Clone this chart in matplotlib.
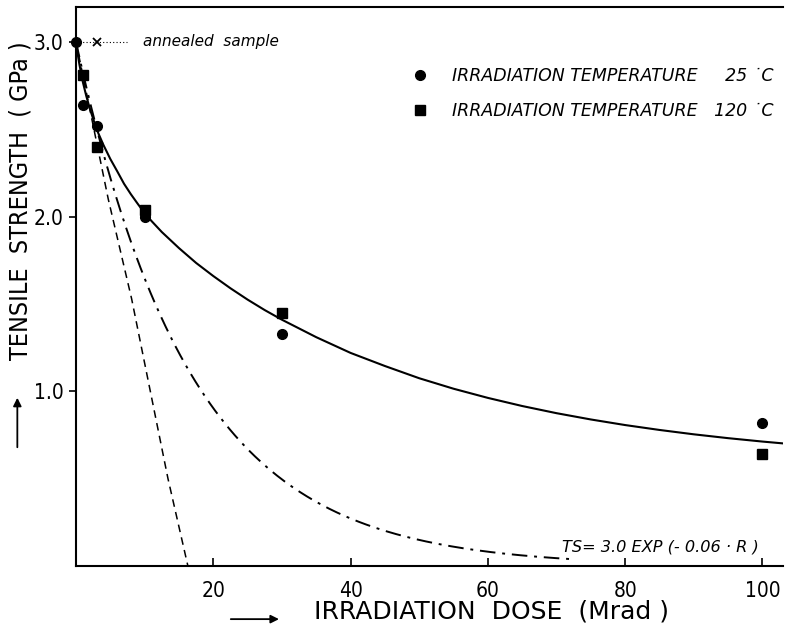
import numpy as np
import matplotlib.pyplot as plt

# measured points (dose in Mrad, tensile strength in GPa)
dose_25 = [0, 1, 3, 10, 30, 100]
ts_25 = [3.0, 2.64, 2.52, 2.00, 1.33, 0.82]
dose_120 = [1, 3, 10, 30, 100]
ts_120 = [2.81, 2.40, 2.04, 1.45, 0.64]

# annealed sample reference
anneal_dose = [3]
anneal_ts = [3.0]
anneal_line_dose = [0, 7.4]
anneal_line_ts = [3.0, 3.0]

# fitted curve through both series
fit_dose = [0, 0.25, 0.5, 1, 1.5, 2, 3, 4, 5, 6, 7, 8, 9, 10, 11, 12.5, 15,
            17.5, 20, 22.5, 25, 27.5, 30, 35, 40, 45, 50, 55, 60, 65, 70, 75,
            80, 85, 90, 95, 100, 103]
fit_ts = [3.0, 2.93, 2.87, 2.77, 2.69, 2.62, 2.50, 2.41, 2.33, 2.26, 2.188,
          2.128, 2.073, 2.02, 1.975, 1.912, 1.82, 1.735, 1.66, 1.59, 1.525,
          1.465, 1.41, 1.31, 1.22, 1.145, 1.075, 1.015, 0.9625, 0.916, 0.875,
          0.839, 0.807, 0.779, 0.754, 0.732, 0.7125, 0.702]

# steep dashed curve
dash_dose = [0, 4.7, 8.1, 13.4, 16.3]
dash_ts = [3.0, 2.10, 1.53, 0.50, 0.0]

# TS = 3.0 EXP(-0.06 R), as labelled on the chart
ts0, k = 3.0, 0.06
exp_dose = np.linspace(0, 72, 200)
exp_ts = ts0 * np.exp(-k * exp_dose)

x_ticks = [20, 40, 60, 80, 100]
y_ticks = [1.0, 2.0, 3.0]

plt.rcParams['font.family'] = ['DejaVu Sans']
plt.rcParams['font.stretch'] = 'condensed'

fig = plt.figure(figsize=(7.91, 6.39), dpi=100)
ax = fig.add_axes([0.0961, 0.1142, 0.8938, 0.8748])

ax.plot(fit_dose, fit_ts, color='black', lw=1.5)
ax.plot(dash_dose, dash_ts, color='black', lw=1.1, linestyle=(0, (5, 3.5)))
ax.plot(exp_dose, exp_ts, color='black', lw=1.4, linestyle=(0, (8, 3.5, 1.5, 3.5)))

ax.plot(anneal_line_dose, anneal_line_ts, color='black', lw=0.8, linestyle=(0, (1, 2)))
ax.plot(anneal_dose, anneal_ts, 'x', color='black', ms=6, mew=1.3)

ax.plot(dose_25, ts_25, 'o', color='black', ms=7, clip_on=False,
        label='IRRADIATION TEMPERATURE     25 \u02d9C')
ax.plot(dose_120, ts_120, 's', color='black', ms=6.5, clip_on=False,
        label='IRRADIATION TEMPERATURE   120 \u02d9C')

ax.set_xlim(0, 103)
ax.set_ylim(0, 3.2)
ax.set_xticks(x_ticks)
ax.set_yticks(y_ticks)
ax.set_xticklabels([str(v) for v in x_ticks])
ax.set_yticklabels(['%.1f' % v for v in y_ticks])
ax.tick_params(axis='x', direction='in', length=6, width=1.2, labelsize=15, pad=11)
ax.tick_params(axis='y', direction='out', length=5, width=1.2, labelsize=15, pad=4)

for side in ['left', 'bottom', 'top']:
    ax.spines[side].set_linewidth(1.5)
ax.spines['right'].set_visible(False)

ax.set_xlabel('IRRADIATION  DOSE  (Mrad )', fontsize=18, va='center',
              fontstretch='normal')
ax.xaxis.set_label_coords(0.588, -0.082)
ax.set_ylabel('TENSILE  STRENGTH  ( GPa )', fontsize=18, va='center')
ax.yaxis.set_label_coords(-0.079, 0.653)

# arrows next to the axis titles
ax.annotate('', xy=(0.291, -0.095), xytext=(0.215, -0.095), xycoords='axes fraction',
            annotation_clip=False,
            arrowprops=dict(arrowstyle='-|>', color='black', lw=1.3, mutation_scale=12))
ax.annotate('', xy=(-0.083, 0.306), xytext=(-0.083, 0.2075), xycoords='axes fraction',
            annotation_clip=False,
            arrowprops=dict(arrowstyle='-|>', color='black', lw=1.3, mutation_scale=12))

ax.text(9.7, 3.0, 'annealed  sample', style='italic', fontsize=11, va='center',
        fontstretch='normal')
ax.text(99.5, 0.11, 'TS= 3.0 EXP (- 0.06 \u00b7 R )', style='italic', fontsize=11.6,
        ha='right', va='center', fontstretch='normal')

ax.legend(loc='upper left', bbox_to_anchor=(0.46, 0.909), frameon=False,
          prop={'style': 'italic', 'size': 12.5, 'stretch': 'normal'},
          handletextpad=1.2, labelspacing=1.0, borderpad=0, handlelength=1.2)

fig.savefig('out.png', dpi=100)
